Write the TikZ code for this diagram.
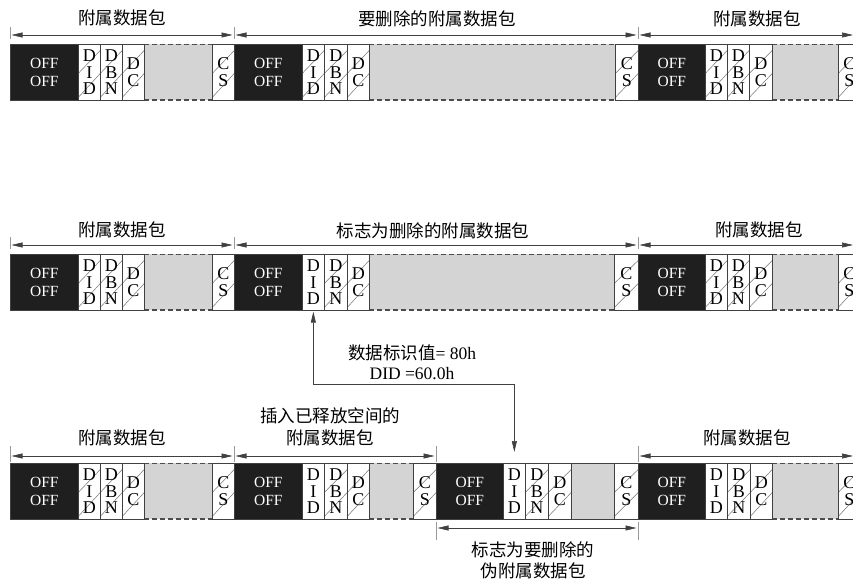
\documentclass[tikz,border=0pt]{standalone}
\usepackage{fontspec}
\setmainfont{Liberation Serif}
\newfontfamily\cjk{Noto Sans CJK SC}
\usetikzlibrary{arrows.meta}

\tikzset{
  cellbase/.style={rectangle, anchor=north west, inner sep=0pt, minimum height=56pt,
    draw=black!75, line width=0.7pt, align=center},
  offcell/.style={cellbase, fill=black!88, text=white, font=\fontsize{15.5}{18}\selectfont},
  lettercell/.style={cellbase, fill=white, font=\fontsize{18}{16.5}\selectfont},
  slashed/.style={path picture={\draw[black!55, line width=0.5pt]
      ([yshift=-29pt]path picture bounding box.north west) -- ([yshift=-6pt]path picture bounding box.north east)
      ([yshift=3pt]path picture bounding box.south west) -- ([yshift=-29pt]path picture bounding box.north east);}},
  noslash/.style={},
  graydash/.style={cellbase, fill=black!17, draw=none,
    path picture={\draw[black!70, line width=2pt, dash pattern=on 5pt off 3pt]
      (path picture bounding box.north west) -- (path picture bounding box.north east)
      (path picture bounding box.south west) -- (path picture bounding box.south east);}},
  graysolid/.style={cellbase, fill=black!17},
  lab/.style={font=\cjk\fontsize{17.5}{22.5}\selectfont, inner sep=0pt, align=center},
  note/.style={font=\fontsize{17.5}{20}\selectfont, inner sep=0pt, align=center},
  dimline/.style={draw=black!75, line width=0.6pt, {Triangle[length=11pt,width=5pt]}-{Triangle[length=11pt,width=5pt]}, shorten <=1.5pt, shorten >=1.5pt},
  tickline/.style={draw=black!40, line width=0.5pt},
  conn/.style={draw=black!75, line width=0.6pt, {Triangle[length=11pt,width=5pt]}-{Triangle[length=11pt,width=5pt]}},
}

% packet: prefix, top, list of 7 x positions, DID style, gray style
\def\mypacket#1#2#3#4#5{\def\pktpre{#1}\def\pkttop{#2}\pktparse#3\relax{#4}{#5}}
\def\pktparse#1,#2,#3,#4,#5,#6,#7\relax#8#9{%
  \node[#9, minimum width={#6pt-#5pt}] (\pktpre-gray) at (#5,\pkttop) {};
  \node[offcell, minimum width={#2pt-#1pt}] (\pktpre-off) at (#1,\pkttop) {OFF\\OFF};
  \node[lettercell, #8, minimum width={#3pt-#2pt}] (\pktpre-did) at (#2,\pkttop) {D\\I\\D};
  \node[lettercell, slashed, minimum width={#4pt-#3pt}] (\pktpre-dbn) at (#3,\pkttop) {D\\B\\N};
  \node[lettercell, slashed, minimum width={#5pt-#4pt}] (\pktpre-dc) at (#4,\pkttop) {D\\C};
  \node[lettercell, slashed, minimum width={#7pt-#6pt}] (\pktpre-cs) at (#6,\pkttop) {C\\S};
}

\begin{document}
\begin{tikzpicture}[x=1pt,y=-1pt]
\useasboundingbox (0,0) rectangle (853,580);
\clip (0,0) rectangle (853,580);

% ---------- row 1 ----------
\mypacket{r1a}{44}{10,78,100,122,144,212,234}{slashed}{graydash}
\mypacket{r1b}{44}{234,302,324,347,369,615,638}{slashed}{graydash}
\mypacket{r1c}{44}{638,705,727,749,772,838,860}{slashed}{graydash}

\coordinate (d1a) at (10,35);
\coordinate (d1b) at (234,35);
\coordinate (d1c) at (638,35);
\coordinate (d1d) at (853,35);
\foreach \c in {d1a,d1b,d1c}{\draw[tickline] ([yshift=8pt]\c) -- ([yshift=-4pt]\c);}
\draw[dimline] (d1a) -- (d1b);
\draw[dimline] (d1b) -- (d1c);
\draw[dimline, shorten >=0pt] (d1c) -- (d1d);

\node[lab] (t1a) at (122,18) {附属数据包};
\node[lab] (t1b) at (437,19) {要删除的附属数据包};
\node[lab] (t1c) at (757,19) {附属数据包};

% ---------- row 2 ----------
\mypacket{r2a}{254}{10,78,100,122,144,212,234}{slashed}{graydash}
\mypacket{r2b}{254}{234,302,324,347,369,614,638}{noslash}{graydash}
\mypacket{r2c}{254}{638,705,727,749,772,838,860}{slashed}{graydash}

\coordinate (d2a) at (10,245);
\coordinate (d2b) at (234,245);
\coordinate (d2c) at (638,245);
\coordinate (d2d) at (853,245);
\foreach \c in {d2a,d2b,d2c}{\draw[tickline] ([yshift=8pt]\c) -- ([yshift=-4pt]\c);}
\draw[dimline] (d2a) -- (d2b);
\draw[dimline] (d2b) -- (d2c);
\draw[dimline, shorten >=0pt] (d2c) -- (d2d);

\node[lab] (t2a) at (122,230) {附属数据包};
\node[lab] (t2b) at (433,231) {标志为删除的附属数据包};
\node[lab] (t2c) at (759,230) {附属数据包};

% ---------- row 3 ----------
\mypacket{r3a}{463}{10,78,100,122,144,212,234}{slashed}{graydash}
\mypacket{r3b}{463}{234,302,324,347,369,413,436}{noslash}{graydash}
\mypacket{r3c}{463}{436,503,525,548,571,614,638}{noslash}{graysolid}
\mypacket{r3d}{463}{638,705,727,750,772,838,860}{noslash}{graydash}

\coordinate (d3a) at (10,456);
\coordinate (d3b) at (234,456);
\coordinate (d3c) at (436,456);
\coordinate (d3d) at (638,456);
\coordinate (d3e) at (853,456);
\foreach \c in {d3a,d3b,d3c,d3d}{\draw[tickline] ([yshift=10pt]\c) -- ([yshift=-6pt]\c);}
\draw[dimline] (d3a) -- (d3b);
\draw[dimline] (d3b) -- (d3c);
\draw[dimline, shorten >=0pt] (d3d) -- (d3e);

\coordinate (d4a) at (436,528);
\coordinate (d4b) at (638,528);
\foreach \c in {d4a,d4b}{\draw[tickline] ([yshift=6pt]\c) -- ([yshift=-12pt]\c);}
\draw[dimline] (d4a) -- (d4b);

\node[lab] (t3a) at (122,438) {附属数据包};
\node[lab] (t3b) at (330,427) {插入已释放空间的\\附属数据包};
\node[lab] (t3c) at (747,438) {附属数据包};
\node[lab, font=\cjk\fontsize{17.5}{21}\selectfont] (t3d) at (533,560) {标志为要删除的\\伪附属数据包};

% ---------- connector ----------
\coordinate (bend) at (0,383);
\draw[conn] ([yshift=-1pt]r2b-did.south) -- ([yshift=-1pt]r2b-did.south |- bend) -| ([yshift=11pt]r3c-did.north);
\node[note] (didnote) at (412,362) {{\cjk 数据标识值}= 80h\\DID =60.0h};
\end{tikzpicture}
\end{document}
